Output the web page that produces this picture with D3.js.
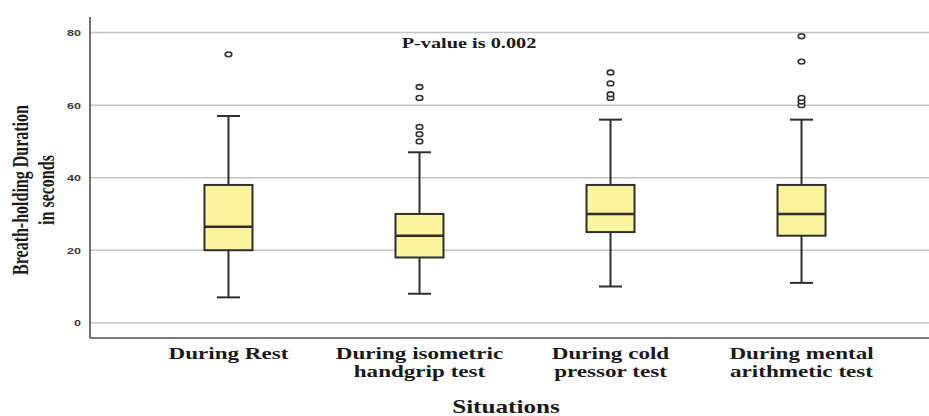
<!DOCTYPE html>
<html>
<head>
<meta charset="utf-8">
<script src="https://cdn.jsdelivr.net/npm/d3@7"></script>
<style>
  html, body { margin: 0; padding: 0; background: #fff; }
  svg { display: block; }
</style>
</head>
<body>
<svg id="chart" width="929" height="416"></svg>
<script>
// ---- Data ----
const categories = ["During Rest", "During isometric handgrip test", "During cold pressor test", "During mental arithmetic test"];
const categoryLabelLines = [["During Rest"], ["During isometric", "handgrip test"], ["During cold", "pressor test"], ["During mental", "arithmetic test"]];
const whiskerLow  = [7, 8, 10, 11];
const q1          = [20, 18, 25, 24];
const median      = [26.5, 24, 30, 30];
const q3          = [38, 30, 38, 38];
const whiskerHigh = [57, 47, 56, 56];
const outliers    = [[74], [50, 52, 54, 62, 65], [62, 63, 66, 69], [60, 61, 62, 72, 79]];
const yTicks      = [0, 20, 40, 60, 80];
const yTitleLines = ["Breath-holding Duration", "in seconds"];
const xTitle      = "Situations";
const annotation  = "P-value is 0.002";

(function () {
// ---- Layout ----
const svg = d3.select("#chart");
const W = 929, H = 416;
const mLeft = 90, mRight = 940, mTop = 17, mBottom = 338;
const SX = 1.4; // horizontal stretch of the original image's text
const serif = "'Liberation Serif', 'Times New Roman', serif";
const sans = "'Liberation Sans', Arial, sans-serif";

const x = d3.scalePoint().domain(categories).range([mLeft, mRight]).padding(0.725);
const y = d3.scaleLinear().domain([-4.2, 84.3]).range([mBottom, mTop]);

const boxW = 48, capW = 23;

// Grid lines
svg.append("g").selectAll("line").data(yTicks).join("line")
  .attr("x1", mLeft).attr("x2", W)
  .attr("y1", d => y(d)).attr("y2", d => y(d))
  .attr("stroke", "#c4c4c4").attr("stroke-width", 1.5);

// Y axis tick labels via d3 axis
const yAxis = svg.append("g").attr("transform", `translate(${mLeft},0)`)
  .call(d3.axisLeft(y).tickValues(yTicks).tickSize(0).tickPadding(0));
yAxis.select(".domain").remove();
yAxis.selectAll("text")
  .attr("x", -9 / SX)
  .attr("dy", "0.35em")
  .attr("transform", `scale(${SX},1)`)
  .attr("font-family", sans).attr("font-size", 9).attr("font-weight", "bold")
  .attr("fill", "#3a3a3a");

// Axis lines
svg.append("line").attr("x1", mLeft).attr("x2", mLeft).attr("y1", mTop).attr("y2", mBottom)
  .attr("stroke", "#505050").attr("stroke-width", 1.6);
svg.append("line").attr("x1", mLeft).attr("x2", W).attr("y1", mBottom).attr("y2", mBottom)
  .attr("stroke", "#505050").attr("stroke-width", 1.6);

// Boxes
const data = categories.map((c, i) => ({
  c, lo: whiskerLow[i], q1: q1[i], med: median[i], q3: q3[i], hi: whiskerHigh[i], out: outliers[i]
}));

const g = svg.append("g").selectAll("g").data(data).join("g")
  .attr("transform", d => `translate(${x(d.c)},0)`);

const stroke = "#2e2e2e";
g.append("line").attr("x1", 0).attr("x2", 0).attr("y1", d => y(d.hi)).attr("y2", d => y(d.q3))
  .attr("stroke", stroke).attr("stroke-width", 2);
g.append("line").attr("x1", 0).attr("x2", 0).attr("y1", d => y(d.q1)).attr("y2", d => y(d.lo))
  .attr("stroke", stroke).attr("stroke-width", 2);
g.append("line").attr("x1", -capW / 2).attr("x2", capW / 2).attr("y1", d => y(d.hi)).attr("y2", d => y(d.hi))
  .attr("stroke", stroke).attr("stroke-width", 2);
g.append("line").attr("x1", -capW / 2).attr("x2", capW / 2).attr("y1", d => y(d.lo)).attr("y2", d => y(d.lo))
  .attr("stroke", stroke).attr("stroke-width", 2);
g.append("rect").attr("x", -boxW / 2).attr("width", boxW)
  .attr("y", d => y(d.q3)).attr("height", d => y(d.q1) - y(d.q3))
  .attr("fill", "#fbf39e").attr("stroke", stroke).attr("stroke-width", 2);
g.append("line").attr("x1", -boxW / 2).attr("x2", boxW / 2).attr("y1", d => y(d.med)).attr("y2", d => y(d.med))
  .attr("stroke", stroke).attr("stroke-width", 2.5);
g.selectAll("ellipse").data(d => d.out).join("ellipse")
  .attr("cx", 0).attr("cy", v => y(v)).attr("rx", 3.3).attr("ry", 2.4)
  .attr("fill", "#fff").attr("stroke", "#333").attr("stroke-width", 1.6);

// Category labels
const cl = svg.append("g").selectAll("g").data(categories).join("g")
  .attr("transform", d => `translate(${x(d)},359) scale(${SX},1)`);
cl.each(function (d, i) {
  const sel = d3.select(this);
  categoryLabelLines[i].forEach((line, j) => {
    sel.append("text").attr("y", j * 18).attr("text-anchor", "middle")
      .attr("font-family", serif).attr("font-size", 16.5).attr("font-weight", "bold")
      .attr("fill", "#1a1a1a").text(line);
  });
});

// X title
svg.append("text").attr("transform", `translate(506,413) scale(${SX},1)`)
  .attr("text-anchor", "middle").attr("font-family", serif).attr("font-size", 18)
  .attr("font-weight", "bold").attr("fill", "#1a1a1a").text(xTitle);

// Annotation
svg.append("text").attr("transform", `translate(469,48) scale(${SX},1)`)
  .attr("text-anchor", "middle").attr("font-family", serif).attr("font-size", 14.5)
  .attr("font-weight", "bold").attr("fill", "#1a1a1a").text(annotation);

// Y title (rotated; glyph heights stretched horizontally)
const yt = svg.append("g").attr("transform", `translate(34,190) scale(${SX},1) rotate(-90)`);
yTitleLines.forEach((line, j) => {
  yt.append("text").attr("x", 0).attr("y", (j - 0.5) * 19 + 5)
    .attr("text-anchor", "middle").attr("font-family", serif).attr("font-size", 16)
    .attr("font-weight", "bold").attr("fill", "#1a1a1a").text(line);
});
})();
</script>
</body>
</html>
